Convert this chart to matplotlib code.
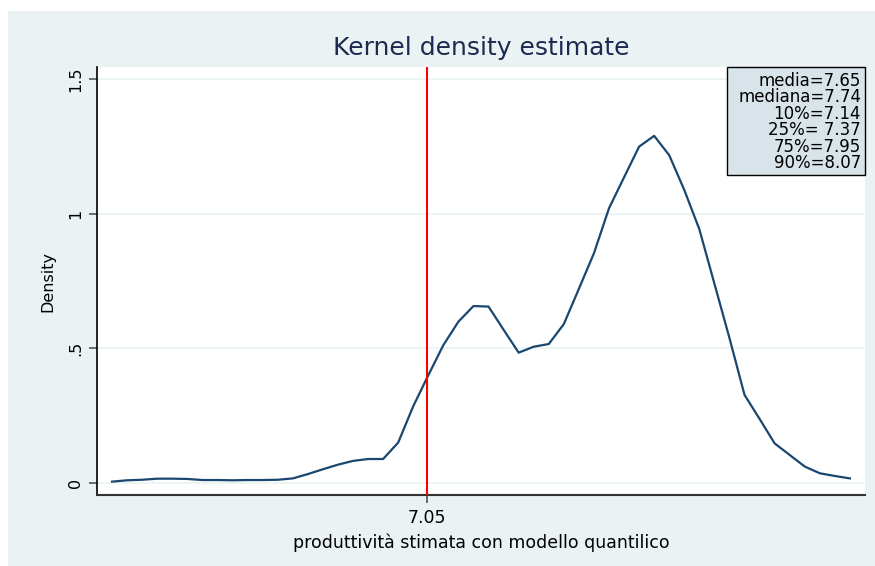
import numpy as np
import matplotlib
matplotlib.use("Agg")
import matplotlib.pyplot as plt
from matplotlib.patches import Rectangle

plt.rcParams['font.family'] = ['DejaVu Sans']

# Kernel density grid (50 evaluation points, evenly spaced over data range)
x_min, x_max = 5.902, 8.592
n_points = 50
density = [0.005, 0.010, 0.012, 0.016, 0.016, 0.015, 0.011, 0.011, 0.010, 0.011,
           0.011, 0.012, 0.017, 0.033, 0.051, 0.068, 0.082, 0.089, 0.089, 0.150,
           0.285, 0.400, 0.512, 0.599, 0.657, 0.655, 0.569, 0.484, 0.506, 0.516,
           0.590, 0.721, 0.853, 1.020, 1.135, 1.249, 1.289, 1.217, 1.088, 0.942,
           0.740, 0.538, 0.327, 0.238, 0.147, 0.104, 0.061, 0.036, 0.026, 0.017]
vline_x = 7.05
x_ticks = [7.05]
x_tick_labels = ["7.05"]
y_ticks = [0, 0.5, 1, 1.5]
y_tick_labels = ["0", ".5", "1", "1.5"]
stats_text = ["media=7.65", "mediana=7.74", "10%=7.14", "25%= 7.37", "75%=7.95", "90%=8.07"]

x = np.linspace(x_min, x_max, n_points)

W, H = 875, 566
fig = plt.figure(figsize=(W / 100, H / 100), dpi=100)
fig.patch.set_facecolor("white")
fig.patches.append(Rectangle((8 / W, 0), 1 - 8 / W, 1 - 11 / H, transform=fig.transFigure,
                             facecolor="#eaf2f3", edgecolor="none", zorder=-10))

left, right, top, bottom = 97, 865, 67, 495
ax = fig.add_axes([left / W, 1 - bottom / H, (right - left) / W, (bottom - top) / H])
ax.set_facecolor("white")

ax.plot(x, density, color="#1a476f", lw=1.6, zorder=3)
ax.axvline(vline_x, color="#ff0000", lw=1.5, zorder=4)

step = (x_max - x_min) / (n_points - 1)
ax.set_xlim(x_min - step, x_max + step * 1.0)
ax.set_ylim(-0.0446, 1.5446)

ax.set_yticks(y_ticks)
ax.set_yticklabels(y_tick_labels, rotation=90, va="center", fontsize=11.5)
ax.set_xticks(x_ticks)
ax.set_xticklabels(x_tick_labels, fontsize=12.5)
ax.tick_params(axis="both", direction="out", length=6, width=1.2, color="#555555", pad=4)
ax.yaxis.grid(True, color="#eaf2f3", lw=1.2)
ax.set_axisbelow(True)

for s in ["top", "right"]:
    ax.spines[s].set_visible(False)
ax.spines["left"].set_color("black")
ax.spines["bottom"].set_color("#333333")
ax.spines["left"].set_linewidth(1.2)
ax.spines["bottom"].set_linewidth(1.5)

ax.set_ylabel("Density", fontsize=11.5, labelpad=9)
ax.set_xlabel("produttività stimata con modello quantilico", fontsize=12.5, labelpad=5)

fig.text(481 / W, 1 - 48 / H, "Kernel density estimate", ha="center", va="center",
         fontsize=18, color="#1c2a52")

# stats box
bx0, bx1, by0, by1 = 727, 865, 67, 175
fig.patches.append(Rectangle((bx0 / W, 1 - by1 / H), (bx1 - bx0) / W, (by1 - by0) / H,
                             transform=fig.transFigure, facecolor="#d8e4ea",
                             edgecolor="black", lw=1.0, zorder=5))
for k, t in enumerate(stats_text):
    fig.text(861 / W, 1 - (85.5 + k * 16.6) / H, t, ha="right", va="baseline",
             fontsize=12, color="black", zorder=6)

fig.savefig("out.png", dpi=100)
